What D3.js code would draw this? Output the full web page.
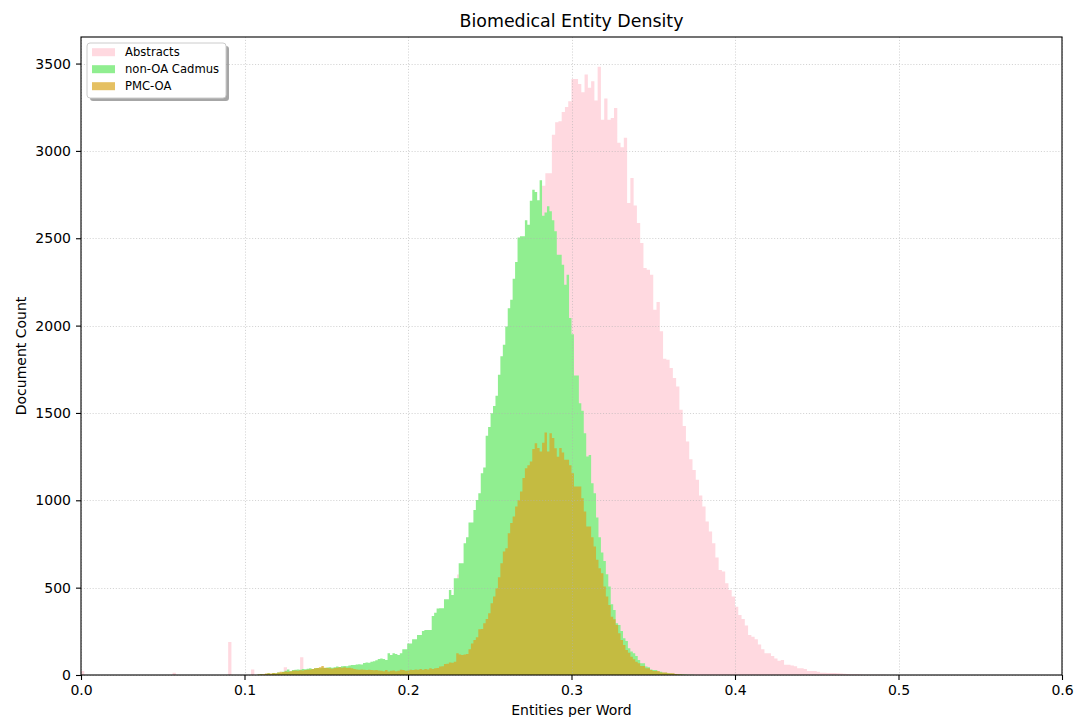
<!DOCTYPE html>
<html><head><meta charset="utf-8">
<script src="https://cdn.jsdelivr.net/npm/d3@7"></script>
<style>
body{margin:0;background:#fff}
svg{display:block}
text{font-family:"DejaVu Sans",sans-serif;fill:#000}
</style>
</head><body>
<svg id="chart" width="1077" height="717"></svg>
<script>
// ---------------- data ----------------
const chartTitle = "Biomedical Entity Density";
const xLabel = "Entities per Word";
const yLabel = "Document Count";
const seriesNames = ["Abstracts", "non-OA Cadmus", "PMC-OA"];
const xTicks = [0.0, 0.1, 0.2, 0.3, 0.4, 0.5, 0.6];
const yTicks = [0, 500, 1000, 1500, 2000, 2500, 3000, 3500];
const xDomain = [0, 0.6];
const yDomain = [0, 3652];

// Abstracts: bins of width 0.002 starting at 0.000
const abstractsBinWidth = 0.002;
const abstractsFirstEdge = 0.0;
const abstractsCounts = [
  23,
  0,0,0,0,0,0,0,0,0,0,0,0,0,0,0,0,0,0,0,0,0,0,0,0,0,0,0,
  13,
  0,0,0,0,0,0,0,0,0,0,0,0,0,0,0,0,
  189,
  0,0,0,0,0,0,
  32,
  0,0,
  3,4,3,5,6,8,9,44,10,12,13,14,101,16,18,20,21,22,24,25,
  26,27,28,30,31,33,35,37,39,40,42,45,48,52,55,58,62,66,70,78,
  85,92,100,110,120,130,145,160,175,195,210,230,250,270,290,320,350,390,430,470,
  575,560,600,650,720,780,840,900,980,1060,1140,1230,1320,1420,1520,1620,1720,1820,1920,2020,
  2120,2220,2320,2420,2520,2620,
  2800,2872,2872,3093,3164,3170,3223,3252,3284,
  3412,3412,3383,3336,3437,3361,3399,3288,3481,3179,
  3300,3179,3189,3246,3046,3021,3075,2702,2845,2687,
  2587,2473,2330,2320,2291,2091,2135,1967,1810,1804,
  1757,
  1700,1652,1518,1426,1337,1235,1174,1117,1027,964,
  878,821,754,672,601,592,525,487,449,391,
  344,321,283,229,219,205,175,147,124,124,
  109,95,82,86,59,59,55,50,38,38,
  34,23,23,23,19,13,13,11,11,11,
  10,8,7,6,5,5,4,3,2,2,
  1,2,1,1,1
];

// non-OA Cadmus: bins of width 0.0015, first bin index 72
const cadmusBinWidth = 0.0015;
const cadmusFirstBin = 72;
const cadmusCounts = [
  3,4,2,6,10,5,12,8,15,10,18,25,32,22,28,30,32,30,35,33,
  36,38,35,38,40,38,42,40,43,45,42,45,48,46,50,52,50,55,57,57,
  60,62,60,68,72,70,76,78,85,92,95,92,86,124,115,124,120,115,124,147,
  147,181,181,204,204,229,229,252,258,258,258,338,357,380,382,382,433,433,487,458,
  554,554,640,640,754,789,873,873,945,1002,1041,1155,1188,1369,1419,1499,1540,1598,1719,1824,
  1890,1995,2100,2148,2268,2364,2505,2511,2511,2603,2578,2715,2778,2765,2717,2832,2629,2648,2683,2654,
  2603,2540,2406,2406,2349,2234,2291,2043,1950,1715,1715,1556,1512,1384,1251,1260,1098,1041,901,789,
  701,653,577,506,405,372,296,286,252,210,195,153,134,124,109,86,67,67,48,44,
  32,29,29,19,19,13,13,10,8,7,6,5,4,3,3,2,2,1
];

// PMC-OA: bins of width 0.0015, first bin index 72
const pmcBinWidth = 0.0015;
const pmcFirstBin = 72;
const pmcCounts = [
  3,5,4,8,10,9,12,10,14,19,17,20,19,22,24,26,25,27,26,28,
  30,32,35,38,40,45,52,42,40,38,36,40,42,44,42,44,40,42,38,34,
  32,30,32,30,28,30,29,27,28,26,25,22,28,20,24,26,22,25,30,28,
  25,26,30,28,32,30,35,30,35,32,38,34,38,40,48,50,63,65,72,70,
  76,124,118,115,118,120,147,181,200,216,262,263,296,320,353,411,450,496,560,640,
  707,726,811,870,907,964,1000,1050,1127,1184,1200,1222,1293,1327,1300,1279,1330,1388,1279,1384,
  1356,1298,1250,1300,1274,1232,1232,1200,1155,1079,1079,1079,1012,936,850,850,789,735,659,611,
  582,506,449,401,334,319,286,239,200,172,143,128,105,90,76,67,52,52,38,38,
  29,23,23,23,15,15,15,10,10,10,6,4,3,2
];

// ---------------- layout ----------------
const svg = d3.select("#chart");
const plot = {left: 81, right: 1062, top: 37, bottom: 675};
const x = d3.scaleLinear().domain(xDomain).range([plot.left, plot.right]);
const y = d3.scaleLinear().domain(yDomain).range([plot.bottom, plot.top]);

function binsFrom(firstEdge, width, counts) {
  const pts = counts.map((c, i) => ({x0: firstEdge + i * width, c}));
  pts.push({x0: firstEdge + counts.length * width, c: counts[counts.length - 1]});
  return pts;
}
const series = [
  {name: seriesNames[0], bins: binsFrom(abstractsFirstEdge, abstractsBinWidth, abstractsCounts), color: "pink", opacity: 0.6},
  {name: seriesNames[1], bins: binsFrom(cadmusFirstBin * cadmusBinWidth, cadmusBinWidth, cadmusCounts), color: "lightgreen", opacity: 1},
  {name: seriesNames[2], bins: binsFrom(pmcFirstBin * pmcBinWidth, pmcBinWidth, pmcCounts), color: "goldenrod", opacity: 0.7}
];

svg.append("defs").append("clipPath").attr("id", "clip")
  .append("rect").attr("x", plot.left).attr("y", plot.top)
  .attr("width", plot.right - plot.left).attr("height", plot.bottom - plot.top);

const area = d3.area()
  .x(d => x(d.x0))
  .y0(y(0))
  .y1(d => y(d.c))
  .curve(d3.curveStepAfter);

const gBars = svg.append("g").attr("clip-path", "url(#clip)");
series.forEach(s => {
  gBars.append("path")
    .datum(s.bins)
    .attr("d", area)
    .attr("fill", s.color)
    .attr("fill-opacity", s.opacity)
    .attr("stroke", "none");
});

// grid (drawn above bars, as matplotlib does by default)
const grid = svg.append("g");
grid.selectAll("line.gx").data(xTicks).join("line")
  .attr("x1", d => Math.round(x(d)) + 0.5).attr("x2", d => Math.round(x(d)) + 0.5)
  .attr("y1", plot.top).attr("y2", plot.bottom)
  .attr("stroke", "#b0b0b0").attr("stroke-opacity", 0.55)
  .attr("stroke-width", 1.0).attr("stroke-dasharray", "1.1,1.8");
grid.selectAll("line.gy").data(yTicks).join("line")
  .attr("y1", d => Math.round(y(d)) + 0.5).attr("y2", d => Math.round(y(d)) + 0.5)
  .attr("x1", plot.left).attr("x2", plot.right)
  .attr("stroke", "#b0b0b0").attr("stroke-opacity", 0.55)
  .attr("stroke-width", 1.0).attr("stroke-dasharray", "1.1,1.8");

// axes
const xAxis = d3.axisBottom(x).tickValues(xTicks).tickFormat(d3.format(".1f")).tickSize(5).tickPadding(5);
const yAxis = d3.axisLeft(y).tickValues(yTicks).tickFormat(d3.format("d")).tickSize(5).tickPadding(5);
const gx = svg.append("g").attr("transform", `translate(0,${plot.bottom})`).call(xAxis);
const gy = svg.append("g").attr("transform", `translate(${plot.left},0)`).call(yAxis);
[gx, gy].forEach(g => {
  g.select(".domain").remove();
  g.selectAll(".tick line").attr("stroke", "#000").attr("stroke-width", 1.1);
  g.selectAll(".tick text").attr("font-size", 14).attr("font-family", "DejaVu Sans");
});
gx.selectAll(".tick text").attr("dy", "0.71em");

// frame
svg.append("rect")
  .attr("x", plot.left).attr("y", plot.top)
  .attr("width", plot.right - plot.left).attr("height", plot.bottom - plot.top)
  .attr("fill", "none").attr("stroke", "#000").attr("stroke-width", 1.1);

// labels
svg.append("text").attr("x", (plot.left + plot.right) / 2).attr("y", 27)
  .attr("text-anchor", "middle").attr("font-size", 17.4).text(chartTitle);
svg.append("text").attr("x", (plot.left + plot.right) / 2).attr("y", 715)
  .attr("text-anchor", "middle").attr("font-size", 14).text(xLabel);
svg.append("text").attr("transform", `translate(25.5,${(plot.top + plot.bottom) / 2}) rotate(-90)`)
  .attr("text-anchor", "middle").attr("font-size", 14).text(yLabel);

// legend
const lg = svg.append("g");
const lx = 87, ly = 43, lw = 139, lh = 55;
lg.append("rect").attr("x", lx + 3).attr("y", ly + 3).attr("width", lw).attr("height", lh)
  .attr("rx", 3).attr("fill", "#000").attr("fill-opacity", 0.35);
lg.append("rect").attr("x", lx).attr("y", ly).attr("width", lw).attr("height", lh)
  .attr("rx", 3).attr("fill", "#fff").attr("stroke", "#cccccc").attr("stroke-width", 1);
series.forEach((s, i) => {
  const cy = 52.2 + i * 17;
  lg.append("rect").attr("x", 92).attr("y", cy - 4).attr("width", 23).attr("height", 8)
    .attr("fill", s.color).attr("fill-opacity", s.opacity);
  lg.append("text").attr("x", 125).attr("y", cy).attr("dy", "0.36em")
    .attr("font-size", 11.6).text(s.name);
});
</script>
</body></html>
